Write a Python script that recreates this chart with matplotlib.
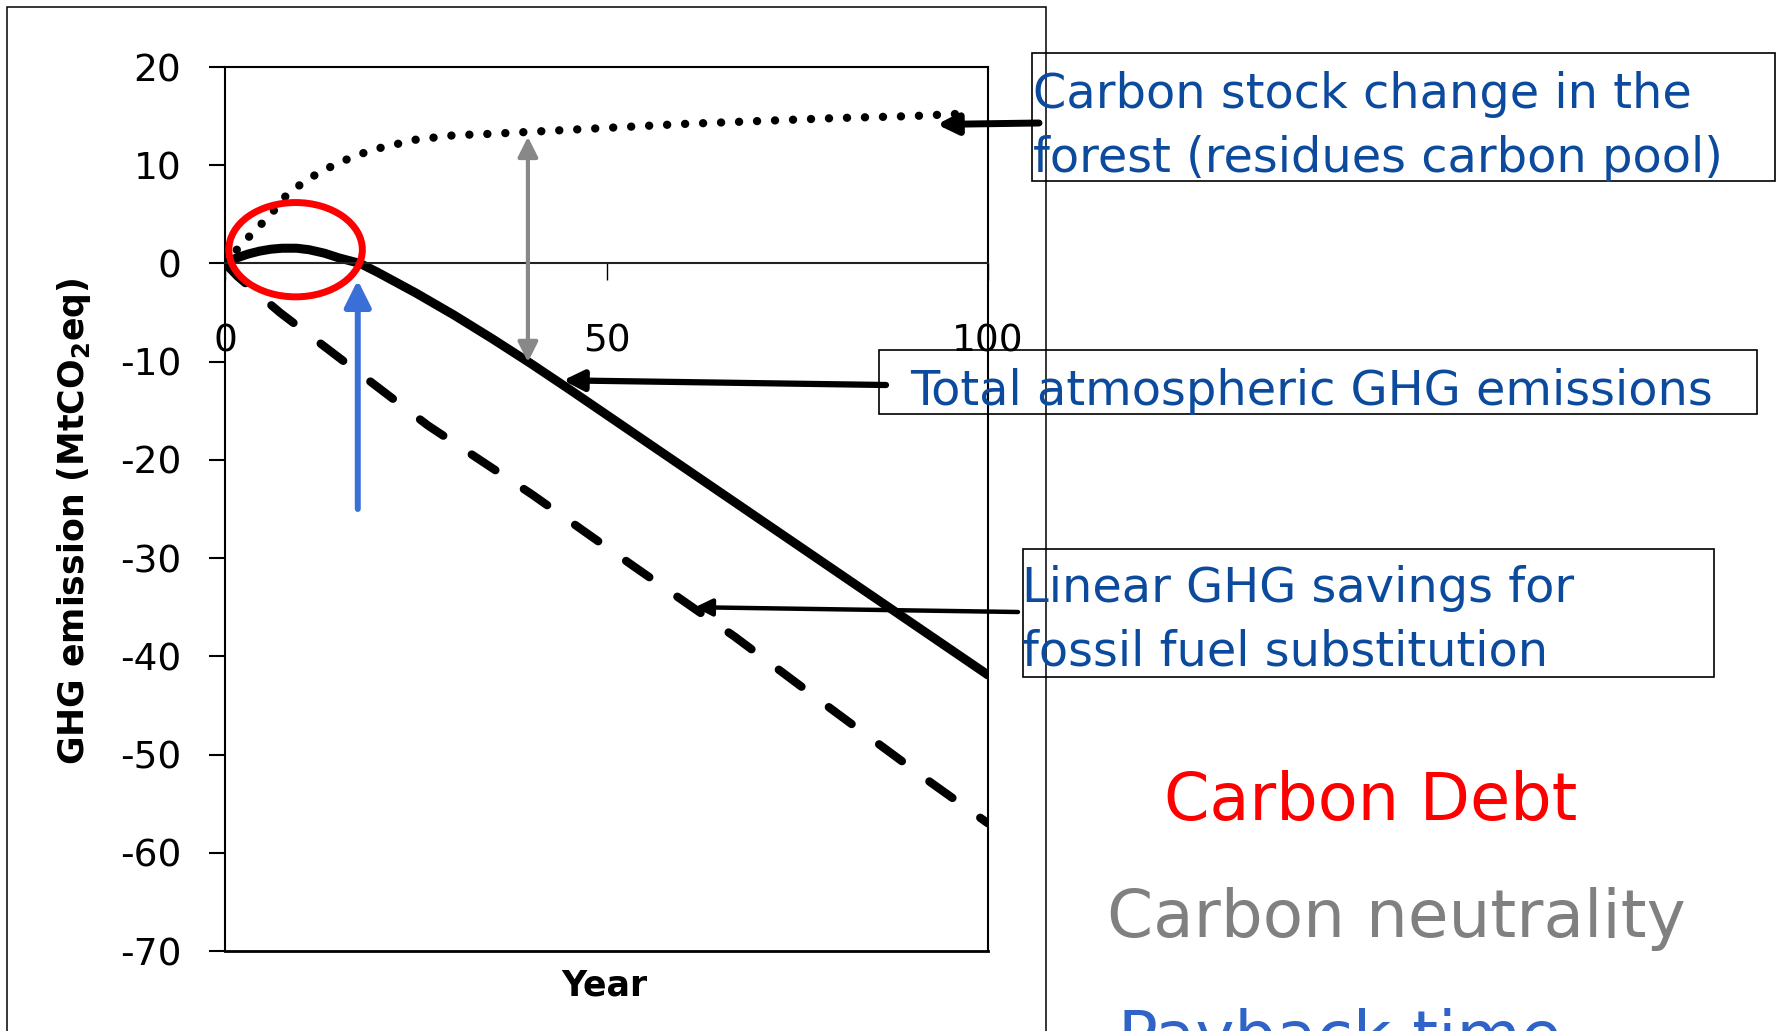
import matplotlib
matplotlib.use("Agg")
import matplotlib.pyplot as plt
from matplotlib.patches import Ellipse, Rectangle

W, H = 1777, 1031

# values
years_stock = [0, 2, 4, 6, 8, 10, 12, 14, 16, 18, 20, 25, 30, 35, 40, 45, 50, 60, 70, 80, 90, 98]
carbon_stock = [0, 1.8, 3.4, 5.0, 6.9, 8.1, 9.1, 9.9, 10.6, 11.2, 11.7, 12.6, 13.05, 13.2,
                13.4, 13.6, 13.8, 14.2, 14.5, 14.8, 15.0, 15.3]

years_total = [0, 1.5, 3, 4.5, 6, 7.5, 9.4, 11, 13, 15, 17.7, 20, 25, 30, 35, 40,
               45, 50, 60, 70, 80, 90, 100]
total_ghg = [0, 0.55, 0.95, 1.25, 1.45, 1.55, 1.55, 1.4, 1.05, 0.55, 0, -0.9, -3.0, -5.25,
             -7.65, -10.15, -12.75, -15.4, -20.7, -26.0, -31.3, -36.6, -41.9]

years_fossil = [0, 1.6, 7.2, 26.6, 40.2, 53.5, 66.8, 79.7, 92.6, 100]
fossil_savings = [0, -1.3, -5.0, -16.5, -23.5, -30.8, -38.0, -45.5, -52.9, -57.0]

y_ticks = [20, 10, 0, -10, -20, -30, -40, -50, -60, -70]
x_ticks = [0, 50, 100]

box_blue = "#0B4A9C"


def fig_xy(x, y):
    # pixel position in the picture -> figure fraction
    return x / W, 1 - y / H


fig = plt.figure(figsize=(W / 100, H / 100), dpi=100)
ax = fig.add_axes([225 / W, 1 - 951 / H, (988 - 225) / W, (951 - 67) / H])

# x axis line sits at zero; the plot area keeps its own frame
for side in ["left", "right", "top", "bottom"]:
    ax.spines[side].set_linewidth(1.5)
ax.spines["bottom"].set_position(("data", 0))
ax.spines["bottom"].set_color("#222222")
ax.axhline(-70, color="black", lw=2, clip_on=False)

ax.plot(years_stock, carbon_stock, color="black", lw=6,
        linestyle=(0, (0.01, 2.15)), dash_capstyle="round")
ax.plot(years_total, total_ghg, color="black", lw=6.5, solid_capstyle="round")
ax.plot(years_fossil, fossil_savings, color="black", lw=6,
        linestyle=(0, (3.4, 4.1)), dash_capstyle="round")

ax.set_xlim(0, 100)
ax.set_ylim(-70, 20)
ax.set_yticks(y_ticks)
ax.set_xticks(x_ticks)
ax.set_xticklabels([str(v) for v in x_ticks])
ax.set_yticklabels([str(v) for v in y_ticks])
ax.tick_params(axis="y", direction="out", length=11.5, width=1.5, pad=20, labelsize=27)
ax.tick_params(axis="x", direction="out", length=12, width=1, pad=31, labelsize=27)

# circle on the carbon debt region
ax.add_patch(Ellipse((9.25, 1.4), 17.5, 9.6, fill=False, ec="red", lw=5, clip_on=False, zorder=5))

# payback time arrow
ax.annotate("", xy=(17.4, -1.7), xytext=(17.4, -25.0),
            arrowprops=dict(arrowstyle="-|>", color="#3A6FD8", lw=4.3,
                            mutation_scale=40, shrinkA=0, shrinkB=0))
# carbon neutrality double arrow
ax.annotate("", xy=(39.7, 12.9), xytext=(39.7, -10.05),
            arrowprops=dict(arrowstyle="<|-|>", color="#888888", lw=3,
                            mutation_scale=30, shrinkA=0, shrinkB=0))

# labels of the axes
fig.text(*fig_xy(74, 521), r"GHG emission (MtCO$_\mathbf{2}$eq)", rotation=90,
         ha="center", va="center", fontsize=25, fontweight="bold")
fig.text(*fig_xy(604, 986), "Year", ha="center", va="center", fontsize=25, fontweight="bold")

# outer frame of the pasted chart
fig.add_artist(Rectangle((7 / W, -0.05), (1046 - 7) / W, 1 - 7 / H + 0.05,
                         transform=fig.transFigure, fill=False, ec="black", lw=1.1))

# text boxes with their arrows
boxes = [
    (1032, 53, 1775, 181),
    (879, 350, 1757, 414),
    (1023, 549, 1714, 677),
]
for x0, y0, x1, y1 in boxes:
    fig.add_artist(Rectangle((x0 / W, 1 - y1 / H), (x1 - x0) / W, (y1 - y0) / H,
                             transform=fig.transFigure, fill=False, ec="black", lw=1.2))

box_lines = [
    (1033, 108, "Carbon stock change in the"),
    (1033, 172, "forest (residues carbon pool)"),
    (910, 405, "Total atmospheric GHG emissions"),
    (1022, 602, "Linear GHG savings for"),
    (1022, 666, "fossil fuel substitution"),
]
for x, y, s in box_lines:
    fig.text(*fig_xy(x, y), s, color=box_blue, fontsize=34.5, ha="left", va="baseline")

ax.annotate("", xy=(93.3, 14.15), xytext=fig_xy(1039, 123), textcoords="figure fraction",
            annotation_clip=False,
            arrowprops=dict(arrowstyle="-|>", color="black", lw=5,
                            mutation_scale=30, shrinkA=0, shrinkB=0))
ax.annotate("", xy=(44.3, -11.9), xytext=fig_xy(886, 385), textcoords="figure fraction",
            annotation_clip=False,
            arrowprops=dict(arrowstyle="-|>", color="black", lw=4.5,
                            mutation_scale=30, shrinkA=0, shrinkB=0))
ax.annotate("", xy=(61.6, -35.0), xytext=fig_xy(1018, 612), textcoords="figure fraction",
            annotation_clip=False,
            arrowprops=dict(arrowstyle="-|>", color="black", lw=3.2,
                            mutation_scale=25, shrinkA=0, shrinkB=0))

# legend-like words on the right
fig.text(*fig_xy(1371, 820), "Carbon Debt", color="#FF0000", fontsize=47,
         ha="center", va="baseline")
fig.text(*fig_xy(1396, 937), "Carbon neutrality", color="#808080", fontsize=47.5,
         ha="center", va="baseline")
# the reference cuts this word off at the bottom edge
fig.text(*fig_xy(1340, 1058), "Payback time", color="#2F63C8", fontsize=47.5,
         ha="center", va="baseline")

fig.savefig("out.png", dpi=100)
